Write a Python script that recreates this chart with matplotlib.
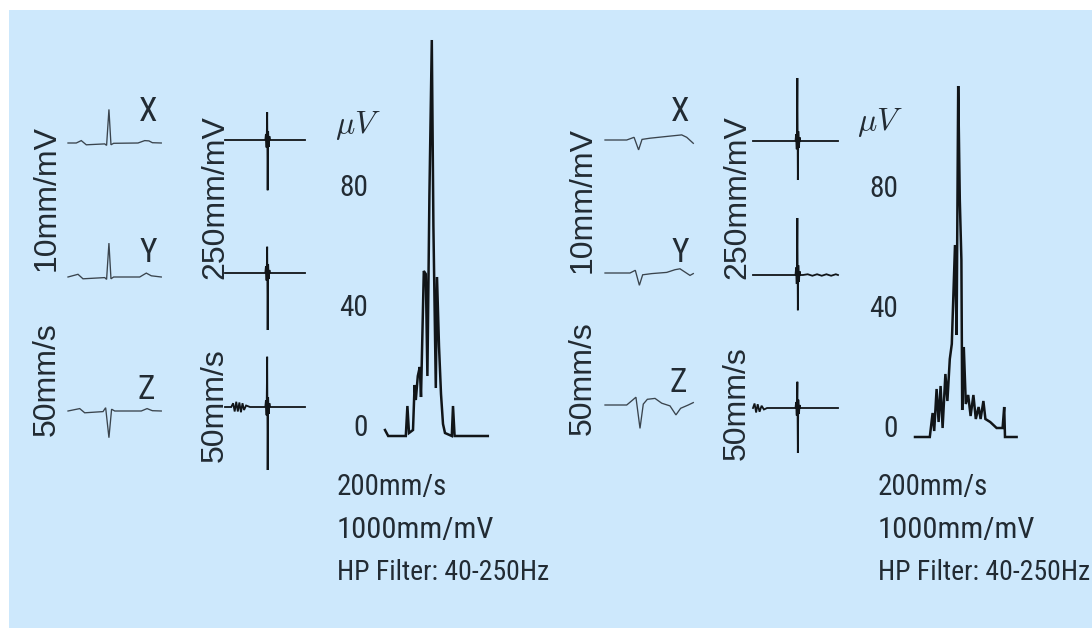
import matplotlib
matplotlib.use("Agg")
import matplotlib.pyplot as plt
from matplotlib import font_manager
from matplotlib.font_manager import FontProperties
from matplotlib.patches import Rectangle
import matplotlib.transforms as mtransforms

# ---------------- data ----------------
# Panel A (left).  Raw orthogonal leads, 50 mm/s, 10 mm/mV : time (ms), amplitude (mV)
a_x_t = [0, 53, 85, 117, 235, 247, 262, 275, 292, 448, 491, 518, 540, 597]
a_x_mv = [0, 0, 0.08, -0.06, -0.03, -0.08, 1.12, -0.06, -0.01, 0, 0.08, 0.07, 0.01, 0]
a_y_t = [0, 64, 96, 235, 247, 262, 275, 292, 459, 501, 533, 597]
a_y_mv = [0, 0.09, -0.06, -0.02, -0.08, 1.13, -0.06, 0, 0, 0.13, 0.04, 0]
a_z_t = [0, 75, 107, 224, 241, 262, 279, 299, 469, 506, 540, 597]
a_z_mv = [0, 0.08, -0.06, -0.02, 0.11, -0.89, 0.06, 0, 0, 0.08, 0.01, 0]

# Panel A filtered leads, 50 mm/s, 250 mm/mV : time (ms), amplitude (uV)
a_fx_t = [0, 230, 258, 262, 266, 270, 273, 276, 280, 284, 288, 300, 512]
a_fx_uv = [0, 0, 0, 8, -10, 37, -67, 12, -9, 5, 0, 0, 0]
a_fy_t = [0, 230, 258, 262, 266, 270, 273, 276, 280, 284, 288, 300, 512]
a_fy_uv = [0, 0, 0, 9, -10, 35, -76, 12, -8, 4, 0, 0, 0]
a_fz_t = [0, 40, 52, 62, 72, 82, 92, 102, 112, 122, 135, 160, 258, 262, 266,
          270, 273, 276, 280, 284, 288, 300, 512]
a_fz_uv = [0, 0, 5, -6, 7, -6, 6, -7, 5, -4, 2, 0, 0, 9, -11,
           67, -84, 13, -9, 5, 0, 0, 0]

# Panel A vector magnitude, 200 mm/s, 1000 mm/mV : time (ms), amplitude (uV)
a_vm_t = [0, 8, 52, 56, 60, 70, 74, 77, 82, 87, 90, 97, 102, 106, 111, 117, 121, 127,
          130, 135, 140, 145, 150, 167, 170, 174, 257]
a_vm_uv = [2, 0, 0, 10, 1, 2, 17, 12, 20, 23, 13, 55, 54, 20, 80, 132, 70, 16,
           53, 30, 14, 4, 1, 0, 10, 0, 0]

# Panel B (right).  Raw leads (mV)
b_x_t = [0, 139, 186, 215, 237, 288, 416, 491, 523, 565]
b_x_mv = [0, 0, 0.09, -0.33, 0.02, 0.06, 0.13, 0.17, 0.09, -0.11]
b_y_t = [0, 160, 194, 220, 241, 299, 395, 448, 480, 512, 544, 565]
b_y_mv = [0, 0, 0.09, -0.41, -0.06, -0.02, 0.02, 0.11, 0.14, 0.03, -0.08, -0.02]
b_z_t = [0, 139, 171, 198, 224, 245, 271, 320, 363, 416, 454, 484, 533, 565]
b_z_mv = [0, 0, 0.14, 0.26, -0.78, 0.03, 0.19, 0.22, 0.06, -0.03, -0.33, -0.11, 0, 0.08]

# Panel B filtered leads (uV)
b_fx_t = [0, 250, 272, 276, 280, 284, 287, 290, 294, 298, 302, 315, 544]
b_fx_uv = [0, 0, 0, 9, -11, 84, -52, 13, -9, 5, 0, 0, 0]
b_fy_t = [0, 250, 272, 276, 280, 284, 287, 290, 294, 298, 302, 320, 350,
          380, 410, 440, 470, 500, 530, 544]
b_fy_uv = [0, 0, 0, 10, -12, 76, -47, 13, -9, 5, 0, 0, 1,
           -1, 1, -1, 1, -1, 1, 0]
b_fz_t = [0, 10, 20, 30, 42, 55, 70, 90, 250, 272, 276, 280, 284, 287, 290,
          294, 298, 302, 315, 544]
b_fz_uv = [0, 6, -6, 5, -5, 3, -2, 0, 0, 0, 8, -10, 35, -60, 11,
           -8, 4, 0, 0, 0]

# Panel B vector magnitude (uV)
b_vm_t = [0, 37, 44, 48, 54, 59, 64, 69, 76, 81, 87, 92, 100, 104, 108, 112, 116, 118,
          122, 127, 133, 139, 146, 152, 159, 164, 171, 176, 188, 204, 219, 223, 225, 254]
b_vm_uv = [0, 0, 8, 2, 16, 5, 17, 3, 21, 12, 26, 31, 64, 34, 117, 79, 59, 9,
           30, 11, 14, 7, 14, 6, 10, 6, 12, 6, 5, 3, 3, 10, 0, 0]

vm_ticks = [0, 40, 80]
lead_names = ["X", "Y", "Z"]
raw_gain_label = "10mm/mV"
filt_gain_label = "250mm/mV"
speed_label = "50mm/s"
vm_labels = ["200mm/s", "1000mm/mV", "HP Filter: 40-250Hz"]

# ---------------- style / layout ----------------
W, H, DPI = 1092, 628, 100
BG = "#cde8fc"
TXT = "#222b33"
RAW_C = "#3a444d"
INK = "#111518"

plt.rcParams["font.family"] = ["Liberation Sans", "DejaVu Sans"]
plt.rcParams["mathtext.fontset"] = "cm"

# look for a condensed sans face (the reference text is horizontally narrow)
_pref = ["liberation sans narrow", "arial narrow", "roboto condensed",
         "open sans condensed", "noto sans condensed", "dejavu sans condensed"]
_narrow = None
for key in _pref:
    for f in font_manager.fontManager.ttflist:
        nm = f.name.lower()
        st = str(f.stretch).lower()
        full = (nm + " " + st)
        if (key in full or (key.split()[0] in nm and "condensed" in st and key.endswith("condensed"))) \
                and f.style == "normal" and str(f.weight) in ("400", "normal", "regular", "book"):
            _narrow = f.fname
            break
    if _narrow:
        break


def hprop(size):
    if _narrow:
        return FontProperties(fname=_narrow, size=size)
    return FontProperties(family="Liberation Sans", size=size)


fig = plt.figure(figsize=(W / DPI, H / DPI), dpi=DPI)
fig.patch.set_facecolor("white")
fig.patches.append(Rectangle((9 / W, 0), 1 - 9 / W, 1 - 10 / H, transform=fig.transFigure,
                             facecolor=BG, edgecolor="none", zorder=-5))
renderer = fig.canvas.get_renderer()


def fx(x):
    return x / W


def fy(y):
    return 1 - y / H


def fit_text(x, y, s, target_w, max_size, transform=None, **kw):
    """horizontal text sized so that its width matches the reference width"""
    t = fig.text(x, y, s, color=TXT, fontproperties=hprop(max_size),
                 transform=transform if transform is not None else fig.transFigure, **kw)
    w = t.get_window_extent(renderer).width
    if w > target_w:
        t.set_fontproperties(hprop(max_size * target_w / w))
    return t


def trace(x0, base_y, t, v, ms_per_px, px_per_unit, lw, color):
    w = (max(t) - min(t)) / ms_per_px
    half = 80
    ax = fig.add_axes([fx(x0), fy(base_y + half), w / W, 2 * half / H])
    ax.plot(t, v, color=color, lw=lw, clip_on=False, solid_joinstyle="miter")
    ax.set_xlim(min(t), max(t))
    ax.set_ylim(-half / px_per_unit, half / px_per_unit)
    ax.axis("off")
    return ax


def vm_axes(x0, base_y, t, v, ms_per_px, px_per_unit, label_right):
    w = (max(t) - min(t)) / ms_per_px
    h = 150 * px_per_unit
    ax = fig.add_axes([fx(x0), fy(base_y), w / W, h / H])
    ax.plot(t, v, color=INK, lw=1.8, clip_on=False, solid_joinstyle="miter")
    ax.set_xlim(min(t), max(t))
    ax.set_ylim(0, 150)
    ax.axis("off")
    tr = mtransforms.blended_transform_factory(fig.transFigure, ax.transData)
    # tick labels of the magnitude scale (the digits sit on their value)
    for k in vm_ticks:
        fit_text(fx(label_right), k, str(k), 29 * len(str(k)) / 2, 24, transform=tr,
                 ha="right", va="baseline")
    return ax


def panel(key, raw, filt, vm, raw_y, filt_y, label_xy, rot_pos, vm_pos, mu_xy, text_x):
    for (t, v), by in zip(raw, raw_y):
        trace(raw_pos_x[key], by, t, v, 6.4, 30, 0.95, RAW_C)
    for (t, v), by in zip(filt, filt_y):
        trace(filt_pos_x[key], by, t, v, 6.4, 0.75, 1.3, INK)
    vm_axes(vm_pos[0], vm_pos[1], vm[0], vm[1], 2.5, 3.0, vm_pos[2])
    for name, (lx, ly) in zip(lead_names, label_xy):
        fit_text(fx(lx), fy(ly), name, 19, 24, ha="center", va="center")
    (g1, s1, g2, s2) = rot_pos
    for (px, py), s in zip((g1, s1, g2, s2),
                           (raw_gain_label, speed_label, filt_gain_label, speed_label)):
        fig.text(fx(px), fy(py), s, rotation=90, fontsize=23, color=TXT,
                 ha="center", va="center", family="Liberation Sans")
    fig.text(fx(mu_xy[0]), fy(mu_xy[1]), r"$\mu V$", fontsize=23, color=TXT,
             ha="center", va="center")
    for s, ty, fs, tw in zip(vm_labels, [487, 530, 572], [24, 24, 21], [111, 157, 212]):
        fit_text(fx(text_x), fy(ty), s, tw, fs, ha="left", va="center")


raw_pos_x = {"A": 68, "B": 605}
filt_pos_x = {"A": 225, "B": 753}

panel("A",
      [(a_x_t, a_x_mv), (a_y_t, a_y_mv), (a_z_t, a_z_mv)],
      [(a_fx_t, a_fx_uv), (a_fy_t, a_fy_uv), (a_fz_t, a_fz_uv)],
      (a_vm_t, a_vm_uv),
      [143, 277, 411], [140, 273, 407],
      [(148, 112), (148, 253), (146, 390)],
      ((47, 198), (47, 379), (215, 197), (215, 405)),
      (385, 436, 368), (358, 125), 337)

panel("B",
      [(b_x_t, b_x_mv), (b_y_t, b_y_mv), (b_z_t, b_z_mv)],
      [(b_fx_t, b_fx_uv), (b_fy_t, b_fy_uv), (b_fz_t, b_fz_uv)],
      (b_vm_t, b_vm_uv),
      [140, 273, 405], [141, 275, 408],
      [(680, 112), (680, 253), (678, 383)],
      ((583, 200), (583, 378), (737, 197), (737, 403)),
      (915, 437, 898), (880, 122), 878)

fig.savefig("out.png", dpi=DPI, facecolor="white")
